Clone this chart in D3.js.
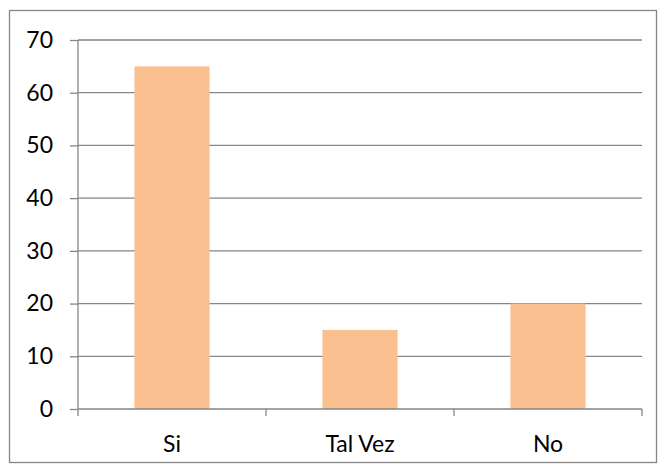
<!DOCTYPE html>
<html>
<head>
<meta charset="utf-8">
<script src="https://cdn.jsdelivr.net/npm/d3@7"></script>
<style>
  body { margin: 0; background: #fff; }
  .axis text { font-family: Lato, "Open Sans", sans-serif; font-size: 23px; fill: #000; }
</style>
</head>
<body>
<div id="chart"></div>
<script>
// data
var categories = ["Si", "Tal Vez", "No"];
var values = [65, 15, 20];
var yTicks = [0, 10, 20, 30, 40, 50, 60, 70];

var W = 665, H = 472;
var margin = {top: 40, right: 23, bottom: 63, left: 78},
    width = 642 - margin.left,
    height = 409 - margin.top;

var svg = d3.select("#chart")
    .append("svg")
    .attr("width", W)
    .attr("height", H);

// outer frame
svg.append("rect")
    .attr("x", 9.5).attr("y", 10.5)
    .attr("width", 647).attr("height", 452)
    .style("fill", "#fff")
    .style("stroke", "#868686")
    .style("stroke-width", 1.3);

var g = svg.append("g")
    .attr("transform", "translate(" + margin.left + "," + margin.top + ")");

var x = d3.scaleBand()
    .domain(categories)
    .range([0, width]);

var y = d3.scaleLinear()
    .domain([0, 70])
    .range([height, 0]);

// gridlines
g.append("g")
    .selectAll("line")
    .data(yTicks.slice(1))
    .enter()
    .append("line")
    .attr("x1", 0).attr("x2", width)
    .attr("y1", function (d) { return y(d); })
    .attr("y2", function (d) { return y(d); })
    .style("stroke", "#868686")
    .style("stroke-width", 1.3);

// bars
var barW = x.bandwidth() * 0.4;
g.append("g")
    .selectAll("rect")
    .data(values)
    .enter()
    .append("rect")
    .attr("x", function (d, i) { return x(categories[i]) + (x.bandwidth() - barW) / 2; })
    .attr("y", function (d) { return y(d); })
    .attr("width", barW)
    .attr("height", function (d) { return height - y(d); })
    .style("fill", "#FAC090");

// y axis
var yAxis = g.append("g")
    .attr("class", "axis")
    .call(d3.axisLeft(y).tickValues(yTicks).tickSize(8).tickPadding(17).tickFormat(d3.format("d")));
yAxis.selectAll("line, path").style("stroke", "#868686").style("stroke-width", 1.3);
yAxis.select("path").attr("d", "M0,0V" + height);

// x axis with ticks at band boundaries
var xAxis = g.append("g")
    .attr("class", "axis")
    .attr("transform", "translate(0," + height + ")")
    .call(d3.axisBottom(x).tickSize(0));
xAxis.selectAll("text").attr("y", 43).attr("dy", 0);
xAxis.select("path").attr("d", "M0,0H" + width)
    .style("stroke", "#868686").style("stroke-width", 1.3);
xAxis.selectAll(".bnd")
    .data(d3.range(categories.length + 1))
    .enter()
    .append("line")
    .attr("class", "bnd")
    .attr("x1", function (i) { return i * x.step(); })
    .attr("x2", function (i) { return i * x.step(); })
    .attr("y1", 0).attr("y2", 7)
    .style("stroke", "#868686").style("stroke-width", 1.3);
</script>
</body>
</html>
